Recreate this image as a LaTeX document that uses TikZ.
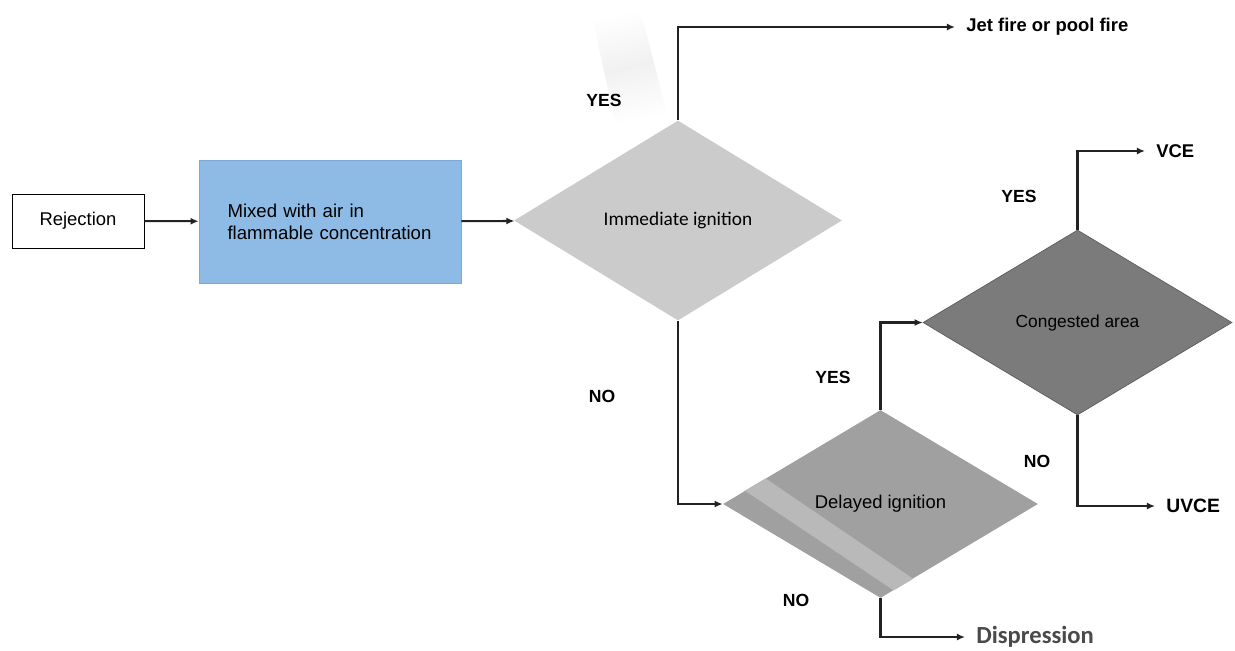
\documentclass[tikz,border=0pt]{standalone}
\usepackage{fontspec}
\setmainfont{Liberation Sans}
\newfontfamily\carlito{Carlito}
\usepackage{tikz}
\usetikzlibrary{shapes.geometric,arrows.meta}
\definecolor{boxblue}{HTML}{8DBBE5}
\definecolor{boxblueedge}{HTML}{7FA9D0}
\definecolor{immgray}{HTML}{CBCBCB}
\definecolor{delgray}{HTML}{A0A0A0}
\definecolor{stripegray}{HTML}{B9B9B9}
\definecolor{congray}{HTML}{7B7B7B}
\definecolor{linegray}{HTML}{222222}
\definecolor{dispgray}{HTML}{4A4A4A}

\begin{document}
\begin{tikzpicture}[x=0.02cm, y=-0.02cm, >={Latex[length=4.6pt,width=4pt]}]
      \tikzstyle{every node} = [inner sep = 0pt];
      \tikzstyle{decision} = [diamond, aspect=1.6];
      \tikzstyle{flow} = [->, line width=1.15pt, draw=linegray];
      \tikzstyle{answer} = [font=\fontsize{10}{12}\selectfont\bfseries];
      \tikzstyle{outcome} = [anchor=west, inner xsep=0.22cm, font=\fontsize{10.5}{12}\selectfont\bfseries];
      \useasboundingbox (0,0) rectangle (1235,650);
      % faint streak above the first decision
      \shade[left color=white, right color=white, middle color=gray!11, shading angle=13]
        (590,8) -- (640,8) -- (670,125) -- (616,125) -- cycle;
      % boxes and decisions
      \node (rej) [draw, thin, minimum width=2.64cm, minimum height=1.08cm,
        font=\fontsize{10.5}{12}\selectfont] at (78,221) {Rejection};
      \node (mix) [fill=boxblue, draw=boxblueedge, minimum width=5.24cm, minimum height=2.46cm,
        text width=4.1cm, align=left, font=\fontsize{10.6}{12.5}\selectfont]
        at (330,221.5) {Mixed with air in\\flammable concentration};
      \node (imm) [decision, fill=immgray, minimum width=6.56cm, minimum height=4cm,
        font=\carlito\fontsize{11}{13}\selectfont] at (678,220.5) {Immediate ignition};
      \node (del) [decision, fill=delgray, minimum width=6.3cm, minimum height=3.76cm,
        font=\fontsize{10.5}{12}\selectfont] at (880.5,504) {Delayed ignition};
      \begin{scope}
        \clip (del.west) -- (del.north) -- (del.east) -- (del.south) -- cycle;
        \fill[stripegray] (720,474) -- (740,461) -- (940,597) -- (920,608) -- cycle;
      \end{scope}
      \node (con) [decision, fill=congray, draw=congray!75!black, thin, minimum width=6.18cm,
        minimum height=3.7cm, font=\fontsize{9.9}{12}\selectfont] at (1077.5,322.5) {Congested area};
      % outcomes
      \node (jet) [outcome] at (955,27) {Jet fire or pool fire};
      \node (vce) [outcome] at (1145,151) {VCE};
      \node (uvce) [outcome, font=\fontsize{11}{13}\selectfont\bfseries] at (1155,506) {UVCE};
      \node (disp) [outcome, text=dispgray, font=\carlito\bfseries\fontsize{14}{16}\selectfont]
        at (965,637) {Dispression};
      % connectors
      \draw[flow] (rej) -- (mix);
      \draw[flow] (mix) -- (imm);
      \foreach \a/\b in {imm.north/jet, imm.south/del, del.north/con,
                         con.north/vce, con.south/uvce, del.south/disp}{
        \draw[flow] (\a) |- (\b.west);
      }
      % answers
      \foreach \txt/\x/\y [count=\i] in {YES/604/100, NO/602/396, YES/833/377,
                                        NO/796/600, YES/1019/196, NO/1037/461}{
        \node (ans\i) [answer] at (\x,\y) {\txt};
      }
\end{tikzpicture}
\end{document}
